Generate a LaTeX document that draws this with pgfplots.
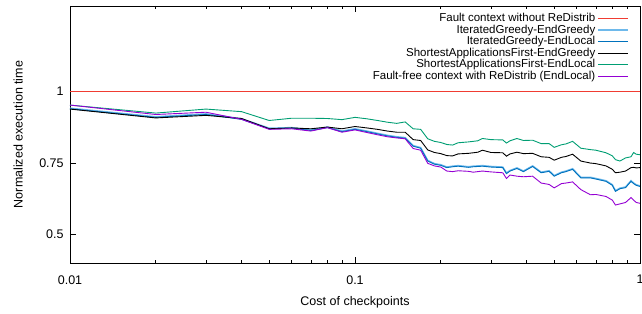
\documentclass[border=0pt]{standalone}
\usepackage{pgfplots}
\usepackage{pgfplotstable}
\pgfplotsset{compat=1.18}
\usepackage{fontspec}
\setmainfont{Liberation Sans}
\definecolor{gpRed}{RGB}{240,60,50}
\definecolor{gpLBlue}{RGB}{110,185,235}
\definecolor{gpBlue}{RGB}{0,114,189}
\definecolor{gpGreen}{RGB}{0,158,115}
\definecolor{gpPurple}{RGB}{148,0,211}
\pgfplotstableread{
x     green  black  blue   purple
0.01  0.953  0.939  0.940  0.953
0.02  0.925  0.908  0.910  0.920
0.03  0.939  0.917  0.920  0.928
0.04  0.930  0.906  0.903  0.903
0.05  0.899  0.870  0.870  0.868
0.06  0.907  0.873  0.872  0.870
0.07  0.907  0.870  0.864  0.862
0.08  0.906  0.876  0.874  0.874
0.09  0.902  0.870  0.860  0.858
0.10  0.910  0.878  0.868  0.866
0.11  0.905  0.873  0.860  0.857
0.12  0.899  0.868  0.852  0.849
0.13  0.893  0.862  0.845  0.842
0.14  0.889  0.858  0.840  0.838
0.15  0.894  0.858  0.837  0.835
0.16  0.870  0.832  0.809  0.801
0.17  0.868  0.829  0.802  0.795
0.18  0.835  0.796  0.757  0.749
0.19  0.826  0.787  0.746  0.740
0.20  0.822  0.783  0.742  0.736
0.21  0.815  0.776  0.734  0.722
0.22  0.813  0.775  0.737  0.720
0.23  0.821  0.782  0.739  0.723
0.25  0.824  0.784  0.735  0.721
0.26  0.826  0.786  0.737  0.718
0.27  0.828  0.788  0.738  0.720
0.28  0.836  0.795  0.739  0.722
0.30  0.832  0.787  0.736  0.719
0.33  0.831  0.786  0.734  0.716
0.34  0.820  0.774  0.713  0.696
0.35  0.828  0.782  0.722  0.708
0.37  0.836  0.788  0.731  0.704
0.39  0.829  0.783  0.720  0.702
0.42  0.830  0.784  0.738  0.704
0.45  0.818  0.772  0.716  0.680
0.48  0.818  0.770  0.721  0.675
0.50  0.805  0.760  0.704  0.663
0.53  0.814  0.770  0.716  0.678
0.55  0.817  0.773  0.720  0.680
0.58  0.826  0.781  0.728  0.684
0.62  0.802  0.757  0.698  0.657
0.67  0.797  0.750  0.698  0.639
0.70  0.795  0.748  0.694  0.640
0.76  0.786  0.740  0.686  0.633
0.80  0.775  0.728  0.672  0.620
0.82  0.762  0.716  0.651  0.603
0.85  0.757  0.718  0.660  0.607
0.89  0.768  0.722  0.664  0.612
0.93  0.772  0.734  0.686  0.629
0.95  0.787  0.735  0.678  0.620
0.97  0.781  0.733  0.672  0.612
1.00  0.779  0.734  0.668  0.609
}\datatable
\begin{document}
\begin{tikzpicture}
\fontsize{12.5}{15}\selectfont
\begin{axis}[
  name=ax,
  scale only axis,
  width=570pt, height=257pt,
  xmode=log,
  xmin=0.01, xmax=1,
  ymin=0.4, ymax=1.3,
  log basis x=10,
  xtick={0.01,0.1,1},
  xticklabels={0.01,0.1,1},
  minor xtick={0.02,0.03,0.04,0.05,0.06,0.07,0.08,0.09,0.2,0.3,0.4,0.5,0.6,0.7,0.8,0.9},
  ytick={0.5,0.75,1},
  yticklabels={0.5,0.75,1},
  tick align=inside,
  major tick length=6pt,
  minor tick length=3pt,
  tick style={black, line width=0.6pt},
  axis line style={line width=0.8pt},
  xlabel={Cost of checkpoints},
  ylabel={Normalized execution time},
  xticklabel style={yshift=-8pt},
  yticklabel style={xshift=-2pt},
  xlabel style={yshift=-4pt},
  ylabel style={yshift=8pt},
  ticklabel style={font=\fontsize{12.5}{15}\selectfont},
  label style={font=\fontsize{12.5}{15}\selectfont},
  legend style={draw=none, fill=none, at={(1,1)}, anchor=north east,
    font=\fontsize{11.5}{13}\selectfont, row sep=-2.6pt, xshift=-8pt, yshift=-3pt},
  legend cell align=right,
  legend plot pos=right,
  legend image code/.code={\draw[#1] (0pt,0pt) -- (30pt,0pt);},
]
\addlegendimage{color=gpRed, line width=1.2pt}
\addlegendentry{Fault context without ReDistrib}
\addplot[color=gpLBlue, line width=1.5pt] table[x=x, y expr=\thisrow{blue}+0.002] {\datatable};
\addlegendentry{IteratedGreedy-EndGreedy}
\addplot[color=gpBlue, line width=0.9pt] table[x=x, y=blue] {\datatable};
\addlegendentry{IteratedGreedy-EndLocal}
\addplot[color=black, line width=0.9pt] table[x=x, y=black] {\datatable};
\addlegendentry{ShortestApplicationsFirst-EndGreedy}
\addplot[color=gpGreen, line width=0.9pt] table[x=x, y=green] {\datatable};
\addlegendentry{ShortestApplicationsFirst-EndLocal}
\addplot[color=gpPurple, line width=0.9pt] table[x=x, y=purple] {\datatable};
\addlegendentry{Fault-free context with ReDistrib (EndLocal)}
\addplot[color=gpRed, line width=1.4pt, forget plot] table[x=x, y expr=1.0] {\datatable};
\end{axis}
\pgfresetboundingbox
\path ([xshift=-70pt,yshift=-51pt]ax.south west) rectangle ([xshift=2pt,yshift=6pt]ax.north east);
\end{tikzpicture}
\end{document}
